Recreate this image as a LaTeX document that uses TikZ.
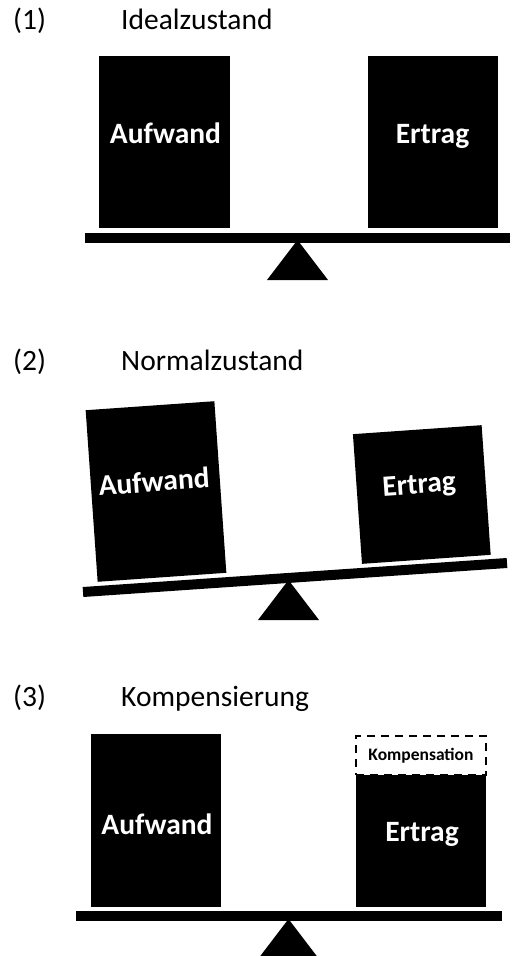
\documentclass[tikz,border=0pt]{standalone}
\usepackage{fontspec}
\setmainfont{Carlito}
\usepackage{tikz}
\usetikzlibrary{positioning}

\begin{document}
\begin{tikzpicture}[x=1pt,y=-1pt,line join=miter,
  box/.style={fill=black,draw=none,inner sep=0pt},
  boxtext/.style={text=white,inner sep=0pt,anchor=base,font=\bfseries\fontsize{29.5}{34}\selectfont},
  heading/.style={inner sep=0pt,anchor=base west,font=\fontsize{29.5}{34}\selectfont},
  beam/.style={fill=black},
  pivot/.style={fill=black},
  compbox/.style={draw=black,line width=2.4pt,dash pattern=on 8pt off 6pt,inner sep=0pt,
    font=\bfseries\fontsize{17.5}{20}\selectfont}]

  \useasboundingbox (0,0) rectangle (512,956);

%% (1) Idealzustand
  \node[heading] (num1) at (13,29.3) {(1)};
  \node[heading] (title1) at (121,29.3) {Idealzustand};
  % Node: aufbox1
  \node[box,minimum width=131pt,minimum height=172pt] (aufbox1) at (164.5,142) {};
  \node[boxtext] (auftext1) at (165.5,143) {Aufwand};
  % Node: ertbox1
  \node[box,minimum width=130pt,minimum height=172pt] (ertbox1) at (433,142) {};
  \node[boxtext] (erttext1) at (432.5,143) {Ertrag};
  % beam and pivot
  \fill[pivot] (267,280) -- (328,280) -- (297.5,240) -- cycle;
  \fill[beam] (85,233) rectangle (510,242.5);

%% (2) Normalzustand
  \node[heading] (num2) at (13,370) {(2)};
  \node[heading] (title2) at (121,370) {Normalzustand};
  % Node: aufbox2
  \node[box,rotate=4,minimum width=129pt,minimum height=172pt] (aufbox2) at (156,491.5) {};
  \node[boxtext,rotate=4] (auftext2) at (154.7,491.5) {Aufwand};
  % Node: ertbox2
  \node[box,rotate=4,minimum width=129pt,minimum height=130pt] (ertbox2) at (421.8,494.5) {};
  \node[boxtext,rotate=4] (erttext2) at (419.7,493.5) {Ertrag};
  % beam and pivot
  \fill[pivot] (258,620) -- (319,620) -- (288.5,580) -- cycle;
  \draw[line width=10pt] (83,592) -- (507,563);

%% (3) Kompensierung
  \node[heading] (num3) at (13,706.7) {(3)};
  \node[heading] (title3) at (121,706.7) {Kompensierung};
  % Node: aufbox3
  \node[box,minimum width=130pt,minimum height=173pt] (aufbox3) at (156,820.5) {};
  \node[boxtext] (auftext3) at (157,834) {Aufwand};
  % Node: komp
  \node[compbox,minimum width=130pt,minimum height=39pt] (komp) at (421,755.5) {Kompensation};
  % Node: ertbox3
  \node[box,minimum width=130pt,minimum height=132pt] (ertbox3) at (421,841) {};
  \node[boxtext] (erttext3) at (422,841) {Ertrag};
  % beam and pivot
  \fill[pivot] (258,959) -- (319,959) -- (288.5,919) -- cycle;
  \fill[beam] (76,911) rectangle (502,921);
%
\end{tikzpicture}
\end{document}
